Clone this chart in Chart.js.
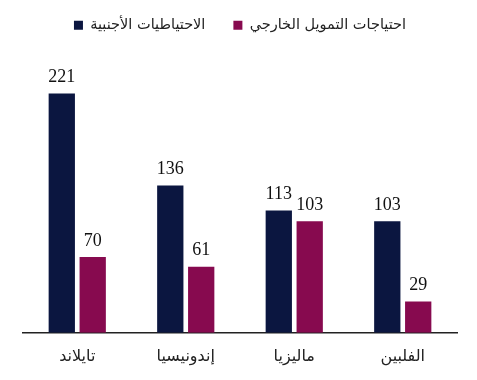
<!DOCTYPE html>
<html><head><meta charset="utf-8">
<script src="https://cdn.jsdelivr.net/npm/chart.js@4"></script>
<style>html,body{margin:0;padding:0;background:#fff;}#wrap{width:477px;height:380px;}</style>
</head><body><div id="wrap"><canvas id="c" width="477" height="380"></canvas></div>
<script>
const categories = ["تايلاند", "إندونيسيا", "ماليزيا", "الفلبين"];
const reserves = [221, 136, 113, 103];
const financingNeeds = [70, 61, 103, 29];
const seriesNames = ["الاحتياطيات الأجنبية", "احتياجات التمويل الخارجي"];
const NAVY = "#0b1640", MAROON = "#870a4f";

const valueLabels = {
  id: "valueLabels",
  afterDatasetsDraw(chart) {
    const ctx = chart.ctx;
    ctx.save();
    ctx.font = "18px 'Liberation Serif', 'Times New Roman', serif";
    ctx.fillStyle = "#111";
    ctx.textAlign = "center";
    ctx.textBaseline = "bottom";
    chart.data.datasets.forEach((ds, i) => {
      chart.getDatasetMeta(i).data.forEach((bar, j) => {
        ctx.fillText(String(ds.data[j]), bar.x, bar.y - 7);
      });
    });
    ctx.restore();
  }
};

new Chart(document.getElementById("c"), {
  type: "bar",
  data: {
    labels: categories,
    datasets: [
      { label: seriesNames[0], data: reserves, backgroundColor: NAVY },
      { label: seriesNames[1], data: financingNeeds, backgroundColor: MAROON }
    ]
  },
  options: {
    responsive: false,
    animation: false,
    devicePixelRatio: 1,
    layout: { padding: { left: 23, right: 20, top: -10, bottom: 0 } },
    datasets: { bar: { categoryPercentage: 0.57, barPercentage: 0.85 } },
    plugins: {
      legend: {
        position: "top",
        labels: {
          boxWidth: 9, boxHeight: 9, padding: 28,
          color: "#222",
          font: { family: "'DejaVu Sans', sans-serif", size: 14.5 }
        }
      },
      tooltip: { enabled: false }
    },
    scales: {
      x: {
        grid: { display: false, drawTicks: false },
        border: { display: true, color: "#222", width: 1.5 },
        ticks: { color: "#222", padding: 14, font: { family: "'DejaVu Sans', sans-serif", size: 16 } }
      },
      y: { display: false, min: 0, max: 268 }
    }
  },
  plugins: [valueLabels]
});
</script></body></html>
